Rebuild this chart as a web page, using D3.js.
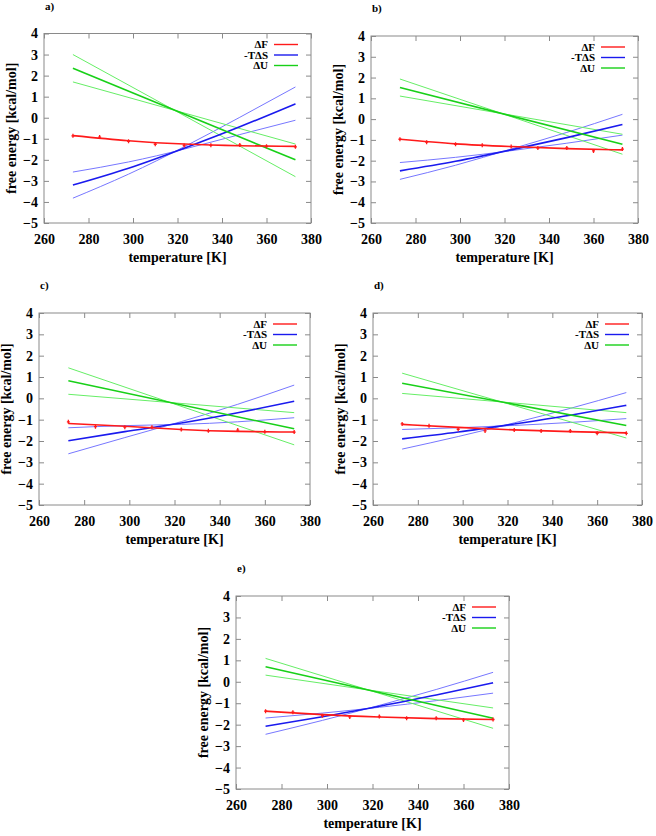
<!DOCTYPE html>
<html><head><meta charset="utf-8">
<script src="https://cdn.jsdelivr.net/npm/d3@7/dist/d3.min.js"></script>
<style>
body{margin:0;background:#fff}
svg text{font-family:"Liberation Serif","Times New Roman",serif;font-weight:bold}
</style>
</head><body><svg id="c" width="656" height="836"></svg>
<script>
const panelLabels = ["a)", "b)", "c)", "d)", "e)"];
const curveTemps = [273, 298, 323, 348, 373];
const pointTemps = [273, 285, 298, 310, 323, 335, 348, 360, 373];
const lineTemps = [273, 373];
const xTicks = [260, 280, 300, 320, 340, 360, 380];
const yTicks = [-5, -4, -3, -2, -1, 0, 1, 2, 3, 4];
const legendLabels = ["ΔF", "-TΔS", "ΔU"];
const xTitle = "temperature [K]";
const yTitle = "free energy [kcal/mol]";

// ΔF fitted curve (at curveTemps)
const dFLine = [
  [-0.85, -1.09, -1.25, -1.33, -1.36],
  [-0.97, -1.19, -1.32, -1.42, -1.48],
  [-1.18, -1.31, -1.46, -1.55, -1.58],
  [-1.22, -1.36, -1.48, -1.56, -1.62],
  [-1.37, -1.53, -1.64, -1.72, -1.76]
];
// ΔF data points (at pointTemps)
const dFPoints = [
  [-0.86, -0.92, -1.12, -1.26, -1.32, -1.31, -1.29, -1.36, -1.38],
  [-0.97, -1.11, -1.21, -1.26, -1.32, -1.39, -1.39, -1.53, -1.44],
  [-1.10, -1.33, -1.35, -1.35, -1.46, -1.52, -1.49, -1.57, -1.58],
  [-1.20, -1.29, -1.45, -1.53, -1.48, -1.53, -1.53, -1.64, -1.64],
  [-1.37, -1.42, -1.58, -1.64, -1.62, -1.70, -1.70, -1.78, -1.76]
];
// -TΔS main and bounds (at curveTemps)
const tdsMain = [
  [-3.20, -2.40, -1.45, -0.43, 0.66],
  [-2.49, -2.03, -1.48, -0.89, -0.26],
  [-1.99, -1.56, -1.16, -0.68, -0.14],
  [-1.90, -1.58, -1.20, -0.79, -0.33],
  [-2.07, -1.63, -1.14, -0.62, -0.05]
];
const tdsSteep = [
  [-3.82, -2.68, -1.38, 0.02, 1.46],
  [-2.90, -2.22, -1.44, -0.64, 0.23],
  [-2.60, -1.84, -1.09, -0.28, 0.62],
  [-2.38, -1.79, -1.15, -0.47, 0.27],
  [-2.45, -1.80, -1.10, -0.36, 0.44]
];
const tdsShallow = [
  [-2.58, -2.10, -1.49, -0.80, -0.12],
  [-2.09, -1.84, -1.52, -1.16, -0.77],
  [-1.38, -1.28, -1.22, -1.10, -0.91],
  [-1.46, -1.38, -1.27, -1.13, -0.95],
  [-1.69, -1.46, -1.19, -0.88, -0.53]
];
// ΔU main and bounds (straight lines, at lineTemps)
const dUMain = [[2.35, -2.00], [1.52, -1.21], [0.82, -1.43], [0.71, -1.27], [0.70, -1.70]];
const dUSteep = [[3.00, -2.80], [1.93, -1.69], [1.43, -2.18], [1.18, -1.86], [1.09, -2.17]];
const dUShallow = [[1.70, -1.25], [1.11, -0.73], [0.19, -0.67], [0.23, -0.67], [0.31, -1.22]];

const layout = [
  {L: 44, R: 311, T: 33.5, B: 223},
  {L: 371, R: 638, T: 36, B: 223},
  {L: 39, R: 310, T: 313, B: 505},
  {L: 373, R: 642, T: 313, B: 505},
  {L: 236, R: 509, T: 596, B: 789}
];

const FONT = "Liberation Serif";
const svg = d3.select("#c");
const frameCol = "#8a8a8a";

layout.forEach((p, i) => {
  const g = svg.append("g");
  const x = d3.scaleLinear().domain([260, 380]).range([p.L, p.R]);
  const y = d3.scaleLinear().domain([-5, 4]).range([p.B, p.T]);

  const styleAxis = sel => {
    sel.attr("font-family", FONT);
    sel.select(".domain").remove();
    sel.selectAll(".tick line").attr("stroke", frameCol);
    sel.selectAll("text").attr("font-family", FONT).attr("font-weight", "bold")
      .attr("font-size", 14).attr("fill", "#000");
  };
  g.append("g").attr("transform", `translate(0,${p.B})`)
    .call(d3.axisBottom(x).tickValues(xTicks).tickSizeInner(-5).tickSizeOuter(0).tickPadding(11))
    .call(styleAxis);
  g.append("g").attr("transform", `translate(0,${p.T})`)
    .call(d3.axisTop(x).tickValues(xTicks).tickSizeInner(-5).tickSizeOuter(0).tickFormat(""))
    .call(styleAxis);
  g.append("g").attr("transform", `translate(${p.L},0)`)
    .call(d3.axisLeft(y).tickValues(yTicks).tickSizeInner(-5).tickSizeOuter(0).tickPadding(6))
    .call(styleAxis);
  g.append("g").attr("transform", `translate(${p.R},0)`)
    .call(d3.axisRight(y).tickValues(yTicks).tickSizeInner(-5).tickSizeOuter(0).tickFormat(""))
    .call(styleAxis);

  g.append("rect").attr("x", p.L).attr("y", p.T).attr("width", p.R - p.L).attr("height", p.B - p.T)
    .attr("fill", "none").attr("stroke", frameCol).attr("stroke-width", 1);

  const curve = d3.line().x((d, k) => x(curveTemps[k])).y(d => y(d)).curve(d3.curveNatural);
  const straight = d3.line().x((d, k) => x(lineTemps[k])).y(d => y(d));

  [tdsSteep[i], tdsShallow[i]].forEach(s => g.append("path").attr("d", curve(s))
    .attr("fill", "none").attr("stroke", "#7777ff").attr("stroke-width", 1));
  [dUSteep[i], dUShallow[i]].forEach(s => g.append("path").attr("d", straight(s))
    .attr("fill", "none").attr("stroke", "#66ee66").attr("stroke-width", 1));

  g.append("path").attr("d", curve(tdsMain[i])).attr("fill", "none").attr("stroke", "#1a1aee").attr("stroke-width", 1.6);
  g.append("path").attr("d", straight(dUMain[i])).attr("fill", "none").attr("stroke", "#18d018").attr("stroke-width", 1.6);
  g.append("path").attr("d", curve(dFLine[i])).attr("fill", "none").attr("stroke", "#ff1a1a").attr("stroke-width", 1.6);

  dFPoints[i].forEach((v, k) => {
    const cx = x(pointTemps[k]), cy = y(v);
    g.append("path").attr("d", `M${cx},${cy - 2}V${cy + 2}M${cx - 1.5},${cy}H${cx + 1.5}`)
      .attr("stroke", "#ff1a1a").attr("stroke-width", 1.3);
  });

  const legCols = ["#ff1a1a", "#1a1aee", "#18d018"];
  legendLabels.forEach((lab, k) => {
    const ly = p.T + 11 + k * 10.5;
    g.append("text").attr("x", p.R - 43).attr("y", ly).attr("dy", "0.35em")
      .attr("text-anchor", "end").attr("font-family", FONT).attr("font-weight", "bold")
      .attr("font-size", 11).text(lab);
    g.append("line").attr("x1", p.R - 37).attr("x2", p.R - 13).attr("y1", ly).attr("y2", ly)
      .attr("stroke", legCols[k]).attr("stroke-width", 1.4);
  });

  g.append("text").attr("x", (p.L + p.R) / 2).attr("y", p.B + 38.5).attr("text-anchor", "middle")
    .attr("font-family", FONT).attr("font-weight", "bold").attr("font-size", 14).text(xTitle);
  g.append("text").attr("transform", `translate(${p.L - 32},${(p.T + p.B) / 2}) rotate(-90)`)
    .attr("text-anchor", "middle").attr("dy", "0.3em")
    .attr("font-family", FONT).attr("font-weight", "bold").attr("font-size", 14).text(yTitle);
  g.append("text").attr("x", p.L + 1).attr("y", p.T - 24)
    .attr("font-family", FONT).attr("font-weight", "bold").attr("font-size", 11).text(panelLabels[i]);
});
</script></body></html>
